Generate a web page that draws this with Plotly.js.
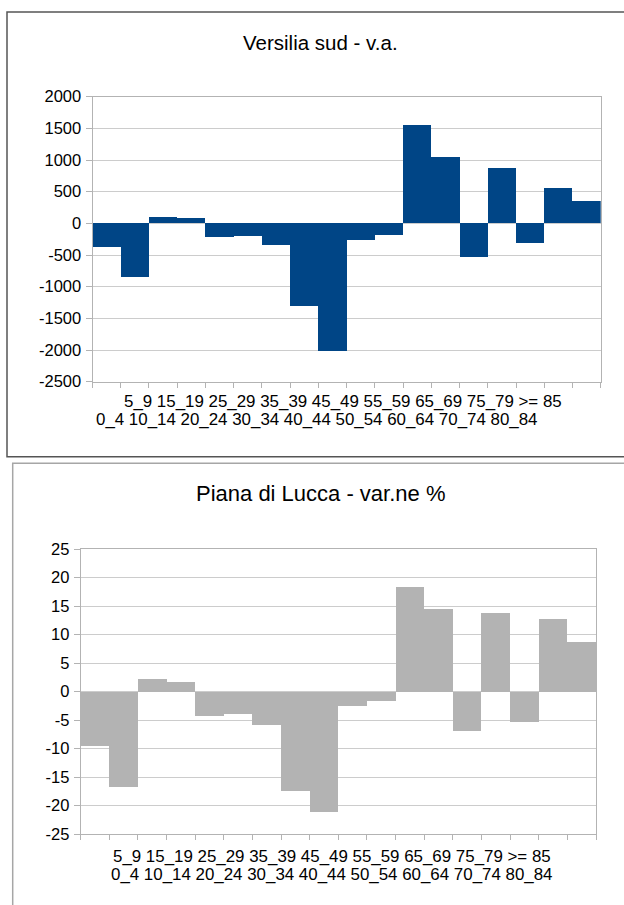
<!DOCTYPE html>
<html>
<head>
<meta charset="utf-8">
<script src="https://cdn.plot.ly/plotly-3.0.1.min.js"></script>
<style>
html,body{margin:0;padding:0;background:#fff;}
#chart{width:624px;height:905px;}
</style>
</head>
<body>
<div id="chart"></div>
<script>
// ---- data ----
var categories = ["0_4","5_9","10_14","15_19","20_24","25_29","30_34","35_39","40_44","45_49","50_54","55_59","60_64","65_69","70_74","75_79","80_84",">= 85"];
var versiliaVA = [-380,-840,100,85,-210,-205,-345,-1300,-2010,-255,-185,1560,1055,-535,880,-315,565,360];
var luccaPct = [-9.5,-16.7,2.2,1.7,-4.3,-3.9,-5.8,-17.4,-21.1,-2.5,-1.7,18.4,14.4,-6.9,13.8,-5.3,12.8,8.7];
var yTicksTop = [-2500,-2000,-1500,-1000,-500,0,500,1000,1500,2000];
var yTicksBottom = [-25,-20,-15,-10,-5,0,5,10,15,20,25];
var titleTop = "Versilia sud - v.a.";
var titleBottom = "Piana di Lucca - var.ne %";

// ---- layout helpers (pixel -> paper) ----
var W = 624, H = 905;
function px(x){ return x / W; }
function py(y){ return 1 - y / H; }

var rowOdd = categories.filter(function(c,i){return i%2===1;}).join(" ");
var rowEven = categories.filter(function(c,i){return i%2===0;}).join(" ");
var boundaries = categories.map(function(c,i){return i-0.5;}).concat([categories.length-0.5]);

var FONT = "Liberation Sans, Arial, sans-serif";
var gridC = "#cccccc", axisC = "#b3b3b3";

var topDomX = [px(92.5), px(600.7)], topDomY = [py(381.7), py(96.7)];
var botDomX = [px(80.7), px(596)], botDomY = [py(834), py(549)];
var topRange = [yTicksTop[0], yTicksTop[yTicksTop.length-1]];
var botRange = [yTicksBottom[0], yTicksBottom[yTicksBottom.length-1]];
function zeroPos(dom, r){ return dom[0] + (0 - r[0]) / (r[1] - r[0]) * (dom[1] - dom[0]); }

function xAx(dom, anchor){
  return {domain: dom, anchor: anchor, type: "category", range: [-0.5, categories.length - 0.5],
    showgrid: false, showline: true, mirror: true, linecolor: axisC, linewidth: 1,
    ticks: "outside", tickson: "boundaries", ticklen: 5, tickcolor: axisC, tickwidth: 1,
    showticklabels: false, fixedrange: true};
}
function yAx(dom, anchor, r, vals){
  return {domain: dom, anchor: anchor, range: r,
    tickmode: "array", tickvals: vals, ticktext: vals.map(function(v){return String(v);}),
    showgrid: true, gridcolor: gridC, gridwidth: 1, zeroline: false,
    showline: true, mirror: true, linecolor: axisC, linewidth: 1,
    ticks: "outside", ticklen: 6, tickcolor: axisC, tickwidth: 1,
    ticklabelstandoff: 1,
    tickfont: {family: FONT, size: 16.5, color: "#000"}, fixedrange: true};
}
function zeroAx(dom, ydom, r){
  return {domain: dom, anchor: "free", position: zeroPos(ydom, r), overlaying: "x", type: "linear",
    range: [-0.5, categories.length - 0.5], showgrid: false, zeroline: false, showline: false,
    tickmode: "array", tickvals: boundaries, ticks: "outside", ticklen: 5, tickcolor: axisC,
    showticklabels: false, layer: "below traces", side: "bottom", fixedrange: true};
}

var traces = [
  {type: "bar", x: categories, y: versiliaVA, xaxis: "x", yaxis: "y",
   marker: {color: "#004586", line: {width: 0}}, hoverinfo: "x+y"},
  {type: "bar", x: categories, y: luccaPct, xaxis: "x2", yaxis: "y2",
   marker: {color: "#b3b3b3", line: {width: 0}}, hoverinfo: "x+y"}
];

var z1 = zeroAx(topDomX, topDomY, topRange);
var z2 = zeroAx(botDomX, botDomY, botRange); z2.overlaying = "x2";

function ann(text, x, y, size, xanchor){
  return {text: text, xref: "paper", yref: "paper", x: px(x), y: py(y), xanchor: xanchor, yanchor: "middle",
    showarrow: false, font: {family: FONT, size: size, color: "#000"}};
}

var layout = {
  width: W, height: H, margin: {l: 0, r: 0, t: 0, b: 0},
  paper_bgcolor: "#fff", plot_bgcolor: "rgba(0,0,0,0)",
  showlegend: false, bargap: 0,
  xaxis: xAx(topDomX, "y"), yaxis: yAx(topDomY, "x", topRange, yTicksTop),
  xaxis2: xAx(botDomX, "y2"), yaxis2: yAx(botDomY, "x2", botRange, yTicksBottom),
  xaxis3: z1, xaxis4: z2,
  annotations: [
    ann(titleTop, 320, 42.5, 20.5, "center"),
    ann(titleBottom, 320, 493.5, 22, "center"),
    ann(rowOdd, 122, 401.5, 16.9, "left"),
    ann(rowEven, 94, 419.5, 16.9, "left"),
    ann(rowOdd, 111, 856.5, 16.9, "left"),
    ann(rowEven, 109, 874.5, 16.9, "left")
  ],
  shapes: [
    {type: "rect", xref: "paper", yref: "paper", x0: px(7), x1: px(640), y0: py(456.7), y1: py(12),
     line: {color: "#555555", width: 1.5}, layer: "below"},
    {type: "rect", xref: "paper", yref: "paper", x0: px(12.7), x1: px(650), y0: py(930), y1: py(463.3),
     line: {color: "#a6a6a6", width: 1.5}, layer: "below"}
  ]
};

Plotly.newPlot("chart", traces, layout, {displayModeBar: false, staticPlot: true});
</script>
</body>
</html>
